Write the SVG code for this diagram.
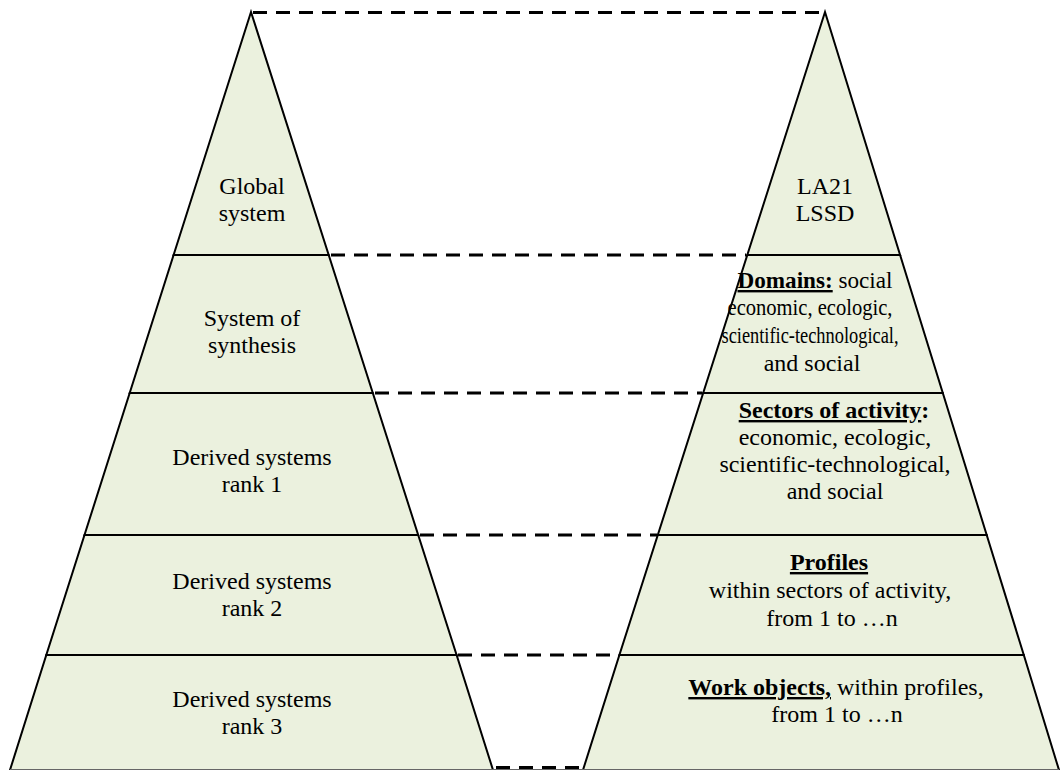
<svg xmlns="http://www.w3.org/2000/svg" width="1060" height="770" viewBox="0 0 1060 770">
<style>
.lvl{fill:#EBF1DE;stroke:#000;stroke-width:2;stroke-linejoin:miter}
.t{font-family:"Liberation Serif","Times New Roman",serif;font-size:24px;fill:#000;text-anchor:middle}
.b{font-weight:bold;text-decoration:underline}
.dash{stroke:#000;stroke-width:3;stroke-dasharray:14 9;fill:none}
</style>
<rect width="1060" height="770" fill="#fff"/>
<g id="left-pyramid">
<g id="global-system"><polygon class="lvl" points="251,12 328.7,255 173.6,255"/>
<text class="t" x="252" y="194">Global</text><text class="t" x="252" y="221">system</text></g>
<g id="system-of-synthesis"><polygon class="lvl" points="173.6,255 328.7,255 372.8,393 129.7,393"/>
<text class="t" x="252" y="326">System of</text><text class="t" x="252" y="353">synthesis</text></g>
<g id="derived-rank-1"><polygon class="lvl" points="129.7,393 372.8,393 418.2,535 84.5,535"/>
<text class="t" x="252" y="465">Derived systems</text><text class="t" x="252" y="492">rank 1</text></g>
<g id="derived-rank-2"><polygon class="lvl" points="84.5,535 418.2,535 456.6,655 46.3,655"/>
<text class="t" x="252" y="589">Derived systems</text><text class="t" x="252" y="616">rank 2</text></g>
<g id="derived-rank-3"><polygon class="lvl" points="46.3,655 456.6,655 493,770 10,770"/>
<text class="t" x="252" y="707">Derived systems</text><text class="t" x="252" y="734">rank 3</text></g>
</g>
<g id="right-pyramid">
<g id="la21-lssd"><polygon class="lvl" points="825,12 900.1,255 747.3,255"/>
<text class="t" x="825" y="194">LA21</text><text class="t" x="825" y="221">LSSD</text></g>
<g id="domains"><polygon class="lvl" points="747.3,255 900.1,255 942.8,393 703.2,393"/>
<text class="t" x="815" y="288" textLength="155" lengthAdjust="spacingAndGlyphs"><tspan class="b">Domains:</tspan> social</text>
<text class="t" x="810" y="315" textLength="165" lengthAdjust="spacingAndGlyphs">economic, ecologic,</text>
<text class="t" x="810" y="343" textLength="177" lengthAdjust="spacingAndGlyphs">scientific-technological,</text>
<text class="t" x="812" y="371">and social</text></g>
<g id="sectors"><polygon class="lvl" points="703.2,393 942.8,393 986.7,535 657.8,535"/>
<text class="t" x="834" y="418"><tspan class="b">Sectors of activity</tspan><tspan font-weight="bold">:</tspan></text>
<text class="t" x="835" y="445">economic, ecologic,</text>
<text class="t" x="835" y="472">scientific-technological,</text>
<text class="t" x="835" y="499">and social</text></g>
<g id="profiles"><polygon class="lvl" points="657.8,535 986.7,535 1023.8,655 619.4,655"/>
<text class="t" x="829" y="570"><tspan class="b">Profiles</tspan></text>
<text class="t" x="830" y="598">within sectors of activity,</text>
<text class="t" x="832" y="626">from 1 to …n</text></g>
<g id="work-objects"><polygon class="lvl" points="619.4,655 1023.8,655 1059,770 583,770"/>
<text class="t" x="836" y="695"><tspan class="b">Work objects,</tspan> within profiles,</text>
<text class="t" x="837" y="722">from 1 to …n</text></g>
</g>
<g id="connectors">
<line class="dash" x1="253" y1="12.5" x2="824" y2="12.5"/>
<line class="dash" x1="331" y1="255" x2="746" y2="255"/>
<line class="dash" x1="375" y1="393" x2="702" y2="393"/>
<line class="dash" x1="420" y1="535" x2="657" y2="535"/>
<line class="dash" x1="458" y1="655" x2="619" y2="655"/>
<line class="dash" x1="496" y1="767.5" x2="582" y2="767.5"/>
</g>
<line x1="10" y1="769.5" x2="1059" y2="769.5" stroke="#666" stroke-width="1"/>
</svg>
